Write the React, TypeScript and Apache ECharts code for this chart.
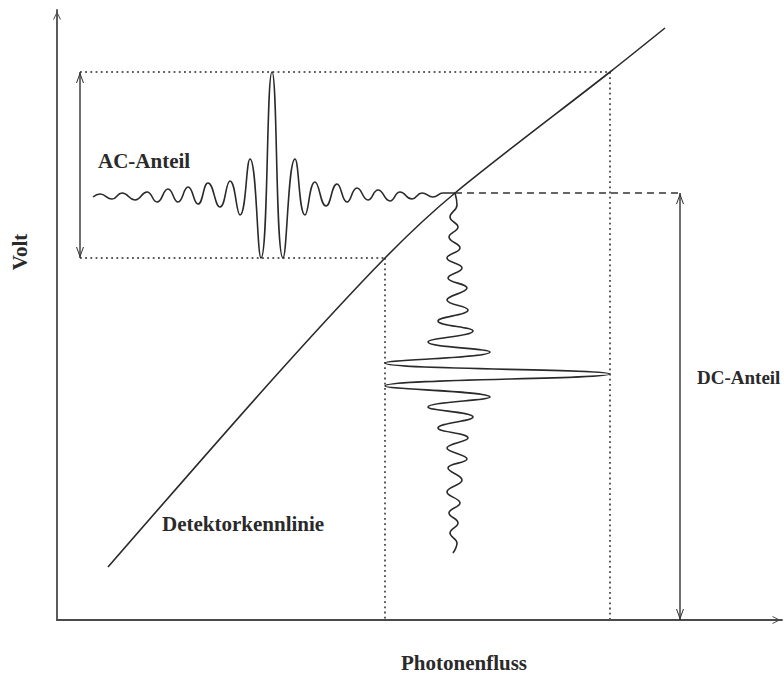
import { useEffect, useRef } from "react";
import * as echarts from "echarts";

// Axis extents (Photonenfluss / Volt, arbitrary units)
const fluxAxisMax = 72.5;
const voltAxisMax = 61;

// Detector characteristic: sampled points along the (slightly saturating) curve
const kennlinie: [number, number][] = [
  [5.1, 5.3],
  [21.5, 24.0],
  [32.8, 36.2],
  [39.8, 42.7],
  [55.3, 54.8],
  [60.8, 59.2],
];

// Operating point and the levels spanned by the modulation
const arbeitspunkt: [number, number] = [39.8, 42.7];
const acMax = 54.8;
const acMin = 36.2;
const fluxMin = 32.8;
const fluxMax = 55.3;
const acArrowX = 2.3;
const dcArrowX = 62.3;

// Detector output (AC part): extrema of the interferogram, drawn left of the operating point
const acSignal: [number, number][] = [
  [3.6, 42.3], [4.3, 42.6], [5.5, 42.1], [6.5, 42.7], [7.8, 42.0], [9.0, 42.8],
  [10.0, 41.8], [11.1, 43.1], [12.1, 41.8], [13.1, 43.3], [14.1, 41.6], [15.1, 43.7],
  [16.3, 41.3], [17.3, 43.9], [18.3, 40.5], [19.3, 46.1], [20.4, 36.2], [21.5, 54.8],
  [22.6, 36.2], [23.8, 46.1], [24.8, 40.5], [25.8, 43.8], [26.9, 41.4], [28.0, 43.6],
  [29.0, 41.8], [30.0, 43.2], [31.1, 42.0], [32.1, 43.0], [33.3, 41.9], [34.3, 42.8],
  [35.5, 42.1], [36.5, 42.7], [37.6, 42.3], [38.6, 42.7], [39.8, 42.7],
];

// Photon flux interferogram, hanging below the operating point
const fluxSignal: [number, number][] = [
  [39.8, 42.7], [40.0, 41.5], [39.3, 40.3], [40.1, 39.3], [39.2, 38.3], [40.3, 37.2],
  [39.0, 36.2], [40.5, 35.2], [39.1, 34.2], [41.0, 33.2], [39.0, 32.0], [41.1, 31.0],
  [38.1, 29.9], [41.6, 28.9], [37.1, 27.8], [43.3, 26.8], [32.8, 25.7], [55.3, 24.6],
  [32.8, 23.4], [43.3, 22.3], [37.1, 21.3], [41.6, 20.3], [38.1, 19.2], [41.1, 18.2],
  [39.0, 17.2], [41.0, 16.1], [39.1, 15.2], [40.5, 14.0], [39.0, 12.8], [40.3, 11.7],
  [39.2, 10.7], [40.1, 9.7], [39.3, 8.7], [40.0, 7.7], [39.6, 6.7],
];

const FONT = "'Liberation Serif', 'Times New Roman', serif";
const INK = "#2a2a2a";
const CHEVRON = "path://M5,0 L10,10 L8.7,10 L5,2.6 L1.3,10 L0,10 Z";

const dotted = { color: "#5a5a5a", width: 2, type: [1.8, 3.4] as number[] };
const dashed = { color: "#333", width: 1.6, type: [7, 5] as number[] };

function segment(from: [number, number], to: [number, number], lineStyle: object) {
  return {
    type: "line",
    data: [from, to],
    symbol: "none",
    silent: true,
    lineStyle,
    z: 1,
  };
}

function doubleArrow(x: number, top: number, bottom: number) {
  return {
    type: "line",
    silent: true,
    symbol: CHEVRON,
    symbolSize: [8, 11],
    showSymbol: true,
    itemStyle: { color: "#333", borderWidth: 0 },
    lineStyle: { color: "#333", width: 1.4 },
    data: [
      { value: [x, top], symbolRotate: 0, symbolOffset: [0, 5.5] },
      { value: [x, bottom], symbolRotate: 180, symbolOffset: [0, -5.5] },
    ],
    z: 3,
  };
}

function label(text: string, x: number, y: number, size = 21, rotation = 0) {
  return {
    type: "text",
    x,
    y,
    rotation,
    style: {
      text,
      font: `bold ${size}px ${FONT}`,
      fill: INK,
      align: "left",
      verticalAlign: "middle",
    },
  };
}

export default function App() {
  const ref = useRef<HTMLDivElement>(null);

  useEffect(() => {
    if (!ref.current) return;
    const chart = echarts.init(ref.current, undefined, { renderer: "svg" });

    const axisLine = {
      show: true,
      onZero: false,
      symbol: ["none", CHEVRON],
      symbolSize: [8, 11],
      symbolOffset: [0, -5.5],
      lineStyle: { color: "#4a4a4a", width: 1.8 },
    };
    const hidden = {
      axisTick: { show: false },
      axisLabel: { show: false },
      splitLine: { show: false },
    };

    chart.setOption({
      animation: false,
      backgroundColor: "#ffffff",
      grid: { left: 57, right: 2, top: 10, bottom: 54 },
      xAxis: { type: "value", min: 0, max: fluxAxisMax, axisLine, ...hidden },
      yAxis: { type: "value", min: 0, max: voltAxisMax, axisLine, ...hidden },
      graphic: [
        label("AC-Anteil", 98, 161),
        label("DC-Anteil", 697, 377, 19),
        label("Detektorkennlinie", 162, 524),
        {
          ...label("Photonenfluss", 464, 663),
          style: { ...label("Photonenfluss", 0, 0).style, align: "center" },
        },
        {
          ...label("Volt", 20, 252, 21, Math.PI / 2),
          style: { ...label("Volt", 0, 0).style, align: "center" },
        },
      ],
      series: [
        // guide lines from the modulation extremes and the operating point
        segment([acArrowX, acMax], [fluxMax, acMax], dotted),
        segment([fluxMax, acMax], [fluxMax, 0], dotted),
        segment([acArrowX, acMin], [fluxMin, acMin], dotted),
        segment([fluxMin, acMin], [fluxMin, 0], dotted),
        segment(arbeitspunkt, [dcArrowX, arbeitspunkt[1]], dashed),
        doubleArrow(acArrowX, acMax, acMin),
        doubleArrow(dcArrowX, arbeitspunkt[1], 0),
        {
          type: "line",
          name: "Detektorkennlinie",
          data: kennlinie,
          smooth: 0.3,
          symbol: "none",
          silent: true,
          lineStyle: { color: INK, width: 1.6 },
          z: 4,
        },
        {
          type: "line",
          name: "AC-Anteil",
          data: acSignal,
          smooth: 0.5,
          symbol: "none",
          silent: true,
          lineStyle: { color: INK, width: 1.6 },
          z: 4,
        },
        {
          type: "line",
          name: "Photonenfluss",
          data: fluxSignal,
          smooth: 0.45,
          symbol: "none",
          silent: true,
          lineStyle: { color: INK, width: 1.6 },
          z: 4,
        },
      ],
    });

    return () => chart.dispose();
  }, []);

  return (
    <div
      ref={ref}
      style={{ position: "fixed", left: 0, top: 0, width: 784, height: 674 }}
    />
  );
}
